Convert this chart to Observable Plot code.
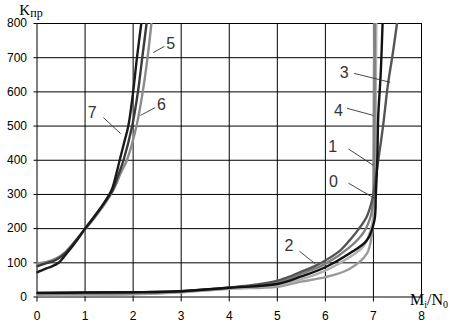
<!DOCTYPE html>
<html><head><meta charset="utf-8">
<script src="https://cdn.jsdelivr.net/npm/d3@7"></script>
<script src="https://cdn.jsdelivr.net/npm/@observablehq/plot@0.6"></script>
<style>
html,body{margin:0;padding:0;background:#fff;}
</style></head>
<body><div id="chart"></div>
<script>
const xTicks = [0,1,2,3,4,5,6,7,8];
const yTicks = [0,100,200,300,400,500,600,700,800];

// group A curves (5, 6, 7)
const curve7 = [[0,72],[0.1,78],[0.2,84],[0.3,89],[0.45,100],[0.6,124],[0.8,160],[1.0,200],[1.2,236],[1.4,276],[1.55,312],[1.65,360],[1.72,400],[1.81,450],[1.9,500],[2.0,600],[2.08,700],[2.17,800]];
const curve6 = [[0,90],[0.2,99],[0.4,109],[0.6,130],[0.8,163],[1.0,200],[1.2,237],[1.4,275],[1.57,312],[1.7,360],[1.8,400],[1.98,500],[2.1,600],[2.19,700],[2.28,800]];
const curve5 = [[0,98],[0.2,103],[0.4,113],[0.6,133],[0.8,165],[1.0,198],[1.2,232],[1.4,270],[1.6,316],[1.75,365],[1.87,400],[2.07,500],[2.2,600],[2.3,700],[2.38,800]];

// group B curves (0 - 4)
const curve0 = [[0,5],[1,6],[2,8],[3,14],[4,24],[5,30],[5.5,45],[6,58],[6.5,82],[6.86,126],[6.97,185],[7.0,253],[7.0,400],[7.01,600],[7.02,800]];
const curve1 = [[0,6],[1,7],[2,9],[3,15],[4,25],[5,35],[5.5,52],[6,77],[6.5,116],[6.8,150],[6.95,200],[7.02,260],[7.04,400],[7.05,600],[7.06,800]];
const curve2 = [[0,8],[1,10],[2,11],[3,16],[4,27],[5,42],[5.5,68],[6,97],[6.5,145],[6.8,190],[6.95,240],[7.0,300],[7.02,500],[7.03,800]];
const curve3 = [[0,12],[1,13],[2,14],[3,17],[4,28],[4.5,35],[5,48],[5.3,62],[5.5,74],[5.8,92],[6,107],[6.3,135],[6.5,165],[6.7,200],[6.86,235],[6.97,282],[7.1,400],[7.2,500],[7.3,620],[7.4,710],[7.49,800]];
const curve4 = [[0,12],[1,13],[2,14],[3,17],[4,27],[5,38],[5.5,60],[6,87],[6.5,127],[6.86,165],[7.02,224],[7.05,300],[7.08,400],[7.1,530],[7.15,650],[7.19,800]];

const curveNames = ["0","1","2","3","4","5","6","7"];
const curveColors = ["#9a9a9a","#b0b0b0","#808080","#555555","#111111","#8c8c8c","#3a3a3a","#1a1a1a"];

// curve labels: text position and leader line (from -> to)
const labelText = ["7","6","5","3","4","1","0","2"];
const labelX = [1.15,2.59,2.78,6.39,6.27,6.15,6.17,5.24];
const labelY = [540,563,741,657,545,440,338,151];
const leadX1 = [1.38,2.46,2.65,6.6,6.45,6.48,6.48,5.46];
const leadY1 = [525,554,733,654,552,433,333,134];
const leadX2 = [1.74,2.15,2.42,7.35,7.0,7.0,7.04,5.79];
const leadY2 = [478,531,715,628,531,385,287,97];

const toPts = a => a.map(([x,y]) => ({x,y}));
const curves = [curve0,curve1,curve2,curve3,curve4,curve5,curve6,curve7];
const labels = labelText.map((t,i)=>({t, x:labelX[i], y:labelY[i], x1:leadX1[i], y1:leadY1[i], x2:leadX2[i], y2:leadY2[i]}));

const marks = [
  Plot.ruleX(xTicks, {stroke:"#000", strokeWidth:1}),
  Plot.ruleY(yTicks, {stroke:"#000", strokeWidth:1}),
  Plot.axisX(xTicks, {tickSize:5, tickPadding:9, fontSize:12, label:null}),
  Plot.axisY(yTicks, {tickSize:3, tickPadding:7, fontSize:12, label:null}),
];
curves.forEach((c,i) => {
  marks.push(Plot.line(toPts(c), {x:"x", y:"y", stroke:curveColors[i], strokeWidth:2.4, curve:"catmull-rom", clip:true}));
});
marks.push(Plot.link(labels, {x1:"x1", y1:"y1", x2:"x2", y2:"y2", stroke:"#333", strokeWidth:0.9}));
marks.push(Plot.text(labels, {x:"x", y:"y", text:"t", fontSize:16, fill:"#333", fontFamily:"Liberation Sans"}));

const svg = Plot.plot({
  width:474, height:323,
  marginLeft:36.5, marginRight:53, marginTop:23, marginBottom:26.5,
  x:{domain:[0,8]},
  y:{domain:[0,800]},
  style:{fontFamily:"Liberation Sans", fontSize:"12px", color:"#000", background:"#fff", overflow:"visible"},
  marks
});

const s = d3.select(svg);
const ky = s.append("text").attr("x",31).attr("y",15).attr("font-family","Liberation Serif").attr("font-size",15).attr("fill","#000");
ky.append("tspan").text("K");
ky.append("tspan").attr("font-size",12).attr("dy",2).text("пр");
const mx = s.append("text").attr("x",429).attr("y",305).attr("font-family","Liberation Serif").attr("font-size",16).attr("fill","#000");
mx.append("tspan").text("M");
mx.append("tspan").attr("font-size",10).attr("dy",3).text("i");
mx.append("tspan").attr("dy",-3).text("/N");
mx.append("tspan").attr("font-size",10).attr("dy",3).text("0");

document.getElementById("chart").appendChild(svg);
</script>
</body></html>
